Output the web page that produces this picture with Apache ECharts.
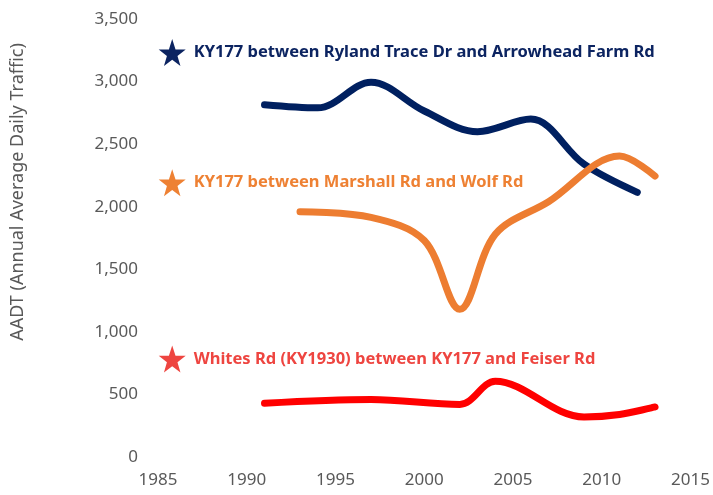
<!DOCTYPE html>
<html><head><meta charset="utf-8">
<script src="https://cdn.jsdelivr.net/npm/echarts@6/dist/echarts.min.js"></script>
<style>html,body{margin:0;padding:0;background:#fff}#c{width:713px;height:495px}</style>
</head><body><div id="c"></div>
<script>
var xTicks = [1985, 1990, 1995, 2000, 2005, 2010, 2015];
var yTicks = [0, 500, 1000, 1500, 2000, 2500, 3000, 3500];

var ryYears = [1991, 1994, 1997, 2000, 2003, 2006, 2009, 2012];
var ryValues = [2815, 2790, 2995, 2765, 2600, 2700, 2340, 2115];

var mwYears = [1993, 1997, 2000, 2002, 2004, 2007, 2011, 2013];
var mwValues = [1960, 1915, 1730, 1180, 1780, 2040, 2405, 2245];

var whYears = [1991, 1997, 2002, 2004, 2009, 2011, 2013];
var whValues = [430, 460, 420, 605, 320, 340, 400];

var labelNames = ['KY177 between Ryland Trace Dr and Arrowhead Farm Rd',
                  'KY177 between Marshall Rd and Wolf Rd',
                  'Whites Rd (KY1930) between KY177 and Feiser Rd'];
var labelX = [1985.8, 1985.8, 1985.8];
var labelY = [3232, 2192, 784];

var lineColors = ['#002060', '#ED7D31', '#FF0000'];
var textColors = ['#0C2461', '#EE8133', '#EE4540'];

function pairs(xs, ys) { return xs.map(function (x, i) { return [x, ys[i]]; }); }

var starPath = 'path://M50,0 L61.8,35.1 L98.1,35.1 L68.8,56.8 L79.4,91 L50,70 L20.6,91 L31.2,56.8 L1.9,35.1 L38.2,35.1 Z';
var FONT = '"Noto Sans", sans-serif';

var lineSets = [[ryYears, ryValues], [mwYears, mwValues], [whYears, whValues]];
var series = lineSets.map(function (s, i) {
  return {
    type: 'line', data: pairs(s[0], s[1]), smooth: 0.35, showSymbol: false, symbol: 'none',
    lineStyle: { color: lineColors[i], width: 7, cap: 'round', join: 'round', opacity: 1 },
    silent: true, z: 2
  };
});
labelNames.forEach(function (name, i) {
  series.push({
    type: 'scatter', data: [[labelX[i], labelY[i]]], symbol: starPath, symbolSize: 27,
    itemStyle: { color: textColors[i], opacity: 1 }, silent: true, z: 3,
    label: { show: true, position: 'right', distance: 8, formatter: name, opacity: 1,
      color: textColors[i], fontFamily: FONT, fontWeight: 'bold', fontSize: 16.5 }
  });
});

var chart = echarts.init(document.getElementById('c'), null, { renderer: 'canvas' });
chart.setOption({
  animation: false,
  backgroundColor: '#ffffff',
  grid: { left: 158, right: 21, top: 19, bottom: 38, containLabel: false },
  xAxis: {
    type: 'value', min: xTicks[0], max: xTicks[xTicks.length - 1], interval: 5,
    axisLine: { show: false }, axisTick: { show: false }, splitLine: { show: false },
    axisLabel: { color: '#595959', fontFamily: FONT, fontSize: 17, margin: 15,
      formatter: function (v) { return String(v); } }
  },
  yAxis: {
    type: 'value', min: yTicks[0], max: yTicks[yTicks.length - 1], interval: 500,
    axisLine: { show: false }, axisTick: { show: false }, splitLine: { show: false },
    axisLabel: { color: '#595959', fontFamily: FONT, fontSize: 17, margin: 20,
      formatter: function (v) { return v.toLocaleString('en-US'); } }
  },
  graphic: [{
    type: 'text', x: 18, y: 192, rotation: Math.PI / 2,
    style: { text: 'AADT (Annual Average Daily Traffic)', fill: '#595959',
      font: '18px "Noto Sans", sans-serif', align: 'center', verticalAlign: 'middle' }
  }],
  series: series
});
</script></body></html>
